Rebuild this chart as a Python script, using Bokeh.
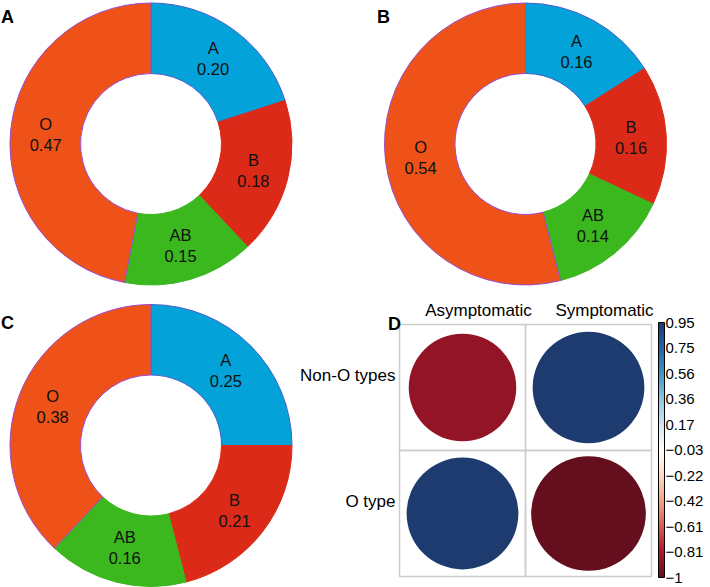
import numpy as np
from bokeh.plotting import figure
from bokeh.layouts import column, row
from bokeh.models import (Range1d, LinearColorMapper, ColorBar, FixedTicker,
                          CustomJSTickFormatter, Label, ColumnDataSource)
from bokeh.transform import transform
from bokeh.core.properties import value
from bokeh.embed import file_html
from bokeh.resources import INLINE

# ---------------- data ----------------
blood_types = ["A", "B", "AB", "O"]
props_A = [0.20, 0.18, 0.15, 0.47]
props_B = [0.16, 0.16, 0.14, 0.54]
props_C = [0.25, 0.21, 0.16, 0.38]

d_cols = ["Asymptomatic", "Symptomatic"]
d_rows = ["Non-O types", "O type"]
d_vals = [[-0.88, 0.95],
          [0.95, -1.0]]

cb_ticks = [-1.0, -0.805, -0.61, -0.415, -0.22, -0.025, 0.17, 0.365, 0.56, 0.755, 0.95]
cb_labels = ["\u22121", "\u22120.81", "\u22120.61", "\u22120.42", "\u22120.22", "\u22120.03",
             "0.17", "0.36", "0.56", "0.75", "0.95"]

# ---------------- styles ----------------
FONT = "Liberation Sans"
slice_colors = ["#03A2D8", "#DC2A19", "#3AB81E", "#EE5218"]
slice_lines = ["#4A5FCA", "#DC2A19", "#3AB81E", "#9A4DD0"]
rdbu = ["#650F1E", "#B2182B", "#D6604D", "#F4A582", "#FDDBC7", "#FFFFFF",
        "#D1E5F0", "#92C5DE", "#4393C3", "#2166AC", "#1E3B6F"]


def interp_palette(anchors, n):
    rgb = np.array([[int(h[i:i + 2], 16) for i in (1, 3, 5)] for h in anchors], float)
    pos = np.linspace(0, 1, len(anchors))
    t = np.linspace(0, 1, n)
    out = np.stack([np.interp(t, pos, rgb[:, k]) for k in range(3)], 1)
    return ["#%02x%02x%02x" % tuple(int(round(c)) for c in r) for r in out]


R = 141.0  # outer radius in px


def letter_label(x, y, text):
    return Label(x=x, y=y, text=text, text_font=FONT, text_font_style="bold",
                 text_font_size="18px", text_color="black", text_align="left",
                 text_baseline="top")


def donut(props, letter, W, H, cx, cy, lx, ly):
    p = figure(width=W, height=H, output_backend="svg", toolbar_location=None,
               x_range=Range1d(-cx / R, (W - cx) / R), y_range=Range1d(-(H - cy) / R, cy / R),
               x_axis_location=None, y_axis_location=None, min_border=0,
               outline_line_color=None)
    p.grid.visible = False
    fr = np.array(props, float)
    cum = np.concatenate([[0.0], np.cumsum(fr)])
    start = np.pi / 2 - 2 * np.pi * cum[:-1]
    end = np.pi / 2 - 2 * np.pi * cum[1:]
    mid = (start + end) / 2
    src = ColumnDataSource(dict(start=start, end=end, fill=slice_colors, line=slice_lines,
                                lx=0.75 * np.cos(mid), ly=0.75 * np.sin(mid),
                                cat=blood_types, val=["%.2f" % v for v in props]))
    p.annular_wedge(x=0, y=0, inner_radius=0.5, outer_radius=1.0, start_angle="start",
                    end_angle="end", direction="clock", fill_color="fill", line_color="line",
                    line_width=1, source=src)
    common = dict(text_font=value(FONT), text_font_size="16.5px", text_color="#111111",
                  text_align="center", text_baseline="middle", source=src)
    p.text(x="lx", y="ly", text="cat", y_offset=-10.5, **common)
    p.text(x="lx", y="ly", text="val", y_offset=10.5, **common)
    p.add_layout(letter_label((lx - cx) / R, (cy - ly) / R, letter))
    return p


pA = donut(props_A, "A", 375, 300, 150.5, 143.5, 0.5, 6)
pB = donut(props_B, "B", 335, 300, 150.0, 143.5, 1.5, 6)
pC = donut(props_C, "C", 295, 287, 150.5, 145.0, 0.5, 12)

# ---------------- panel D (cell units, 1 cell = 126 px) ----------------
CELL = 126.0
WD, HD = 415, 287
left0, bottom0 = 104.0, 276.0   # grid box left / bottom in panel px (from panel's top-left)
mapper = LinearColorMapper(palette=interp_palette(rdbu, 256), low=cb_ticks[0], high=cb_ticks[-1])

nr, nc = len(d_rows), len(d_cols)
xs, ys, vs = [], [], []
for i in range(nr):
    for j in range(nc):
        xs.append(j + 0.5)
        ys.append(nr - 1 - i + 0.5)
        vs.append(d_vals[i][j])
vs = np.array(vs)
srcD = ColumnDataSource(dict(x=xs, y=ys, v=vs, rad=0.455 * np.sqrt(np.abs(vs))))

pD = figure(width=WD, height=HD, output_backend="svg", toolbar_location=None,
            x_range=Range1d(-left0 / CELL, (WD - left0) / CELL),
            y_range=Range1d(-(HD - bottom0) / CELL, bottom0 / CELL),
            x_axis_location=None, y_axis_location=None, min_border=0,
            outline_line_color=None)
pD.grid.visible = False
pD.rect(x="x", y="y", width=1, height=1, fill_color=None, line_color="#CCCCCC",
        line_width=1.5, source=srcD)
pD.circle(x="x", y="y", radius="rad", fill_color=transform("v", mapper), line_color=None,
          source=srcD)

col_src = ColumnDataSource(dict(x=[j + 0.5 for j in range(nc)], y=[nr] * nc, t=d_cols))
row_src = ColumnDataSource(dict(x=[0] * nr, y=[nr - 1 - i + 0.5 for i in range(nr)], t=d_rows))
pD.text(x="x", y="y", text="t", source=col_src, text_font=value(FONT), text_font_size="17px",
        text_color="black", text_align="center", text_baseline="alphabetic",
        x_offset=16, y_offset=-14)
pD.text(x="x", y="y", text="t", source=row_src, text_font=value(FONT), text_font_size="17px",
        text_color="black", text_align="right", text_baseline="middle",
        x_offset=-4, y_offset=-12)

fmt = CustomJSTickFormatter(args=dict(t=cb_ticks, l=cb_labels), code="""
let best = 0, bd = 1e9;
for (let k = 0; k < t.length; k++) { const d = Math.abs(t[k] - tick); if (d < bd) { bd = d; best = k; } }
return l[best];
""")
cb = ColorBar(color_mapper=mapper, ticker=FixedTicker(ticks=cb_ticks), formatter=fmt,
              width=6, height=255, padding=0, margin=0, label_standoff=1,
              major_tick_in=0, major_tick_out=0, major_tick_line_color=None,
              minor_tick_line_color=None, bar_line_color="black", bar_line_width=1,
              major_label_text_font=FONT, major_label_text_font_size="15px",
              major_label_text_color="black", background_fill_color=None,
              border_line_color=None, location=(363, 10))
pD.add_layout(cb)
pD.add_layout(letter_label((92.5 - left0) / CELL, (bottom0 - 13) / CELL, "D"))

layout = column(row(pA, pB), row(pC, pD))
open("out.html", "w").write(file_html(layout, INLINE))
